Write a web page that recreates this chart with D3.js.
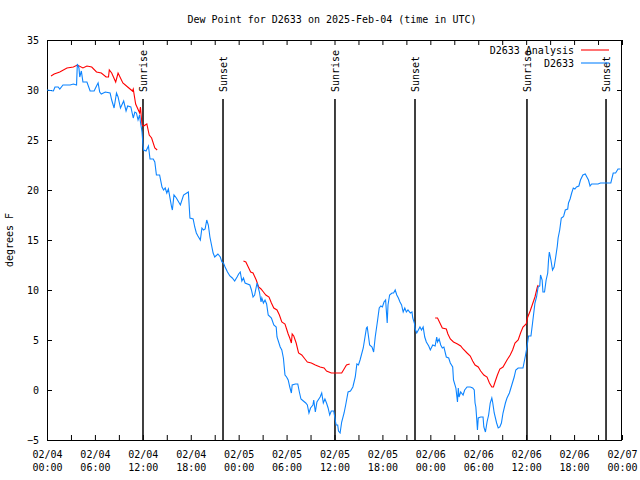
<!DOCTYPE html>
<html>
<head>
<meta charset="utf-8">
<script src="https://cdn.jsdelivr.net/npm/d3@7"></script>
<style>
  html, body { margin: 0; padding: 0; background: #fff; }
  svg text { font-family: "DejaVu Sans Mono", "Liberation Mono", monospace; font-size: 10px; fill: #000; }
</style>
</head>
<body>
<svg id="chart" width="640" height="480"></svg>
<script>
// ---- data (hours since 2025-02-04 00:00 UTC) ----
const title = "Dew Point for D2633 on 2025-Feb-04 (time in UTC)";
const yLabel = "degrees F";
const seriesNames = ["D2633 Analysis", "D2633"];
const yTicks = [-5, 0, 5, 10, 15, 20, 25, 30, 35];

const obsHours = [0.0,0.8,1.0,1.4,1.6,2.0,2.9,3.3,3.7,3.8,4.0,4.1,4.3,4.5,5.0,5.4,5.9,6.2,6.4,6.6,6.8,7.3,7.9,8.1,8.4,8.7,8.9,9.2,9.6,9.9,10.1,10.5,10.8,11.0,11.2,11.4,11.6,11.7,11.9,12.0,12.1,12.4,12.7,12.9,13.3,13.5,13.7,14.1,14.4,14.6,14.8,15.0,15.2,15.6,15.7,15.9,16.2,16.7,17.1,17.5,17.7,17.9,18.3,18.5,18.7,18.9,19.2,19.4,19.6,19.8,20.0,20.2,20.4,20.6,20.8,21.0,21.4,21.7,21.9,22.1,22.3,22.6,22.9,23.2,23.5,23.8,24.0,24.2,24.4,24.6,24.8,25.4,25.6,25.8,26.0,26.3,26.6,26.8,26.9,27.1,27.3,27.5,27.7,28.1,28.4,28.7,28.8,29.2,29.4,29.6,29.8,30.0,30.2,30.4,30.6,30.7,31.1,31.4,31.6,31.8,32.1,32.4,32.6,32.8,33.0,33.3,33.4,33.6,33.8,34.2,34.4,34.6,34.8,35.0,35.2,35.4,35.6,35.9,36.2,36.4,36.5,36.7,36.9,37.2,37.4,37.7,38.0,38.3,38.6,38.8,39.0,39.2,39.6,40.0,40.1,40.4,40.7,40.9,41.1,41.4,41.6,41.8,42.0,42.2,42.4,42.6,42.7,42.9,43.2,43.4,43.6,43.8,44.0,44.2,44.4,44.6,44.8,45.0,45.2,45.5,45.7,45.8,46.0,46.1,46.3,46.5,46.7,46.9,47.1,47.3,47.5,47.8,48.0,48.3,48.6,48.8,48.9,49.1,49.3,49.5,49.7,50.0,50.3,50.5,50.8,50.9,51.2,51.4,51.5,51.6,51.8,52.1,52.3,52.6,53.0,53.3,53.5,53.6,53.7,53.8,53.9,54.0,54.3,54.6,54.7,54.9,55.1,55.3,55.5,55.7,55.8,56.0,56.3,56.5,56.7,56.9,57.1,57.4,57.6,57.9,58.2,58.5,58.7,59.0,59.6,59.9,60.1,60.3,60.6,60.8,61.1,61.3,61.5,61.7,61.8,62.0,62.1,62.3,62.5,62.7,62.8,62.9,63.1,63.3,63.5,63.7,63.9,64.0,64.2,64.4,64.6,64.7,64.9,65.2,65.3,65.5,65.7,65.9,66.1,66.3,66.6,66.8,67.1,67.4,67.6,67.8,68.0,68.2,69.0,69.3,70.6,70.9,71.2,71.5,71.8];
const obsValues = [30.0,29.9,30.3,30.3,30.1,30.5,30.5,30.6,30.5,32.6,32.2,31.3,31.9,30.8,30.8,29.9,29.9,30.4,30.7,29.8,29.6,29.8,29.7,29.0,28.2,29.7,29.3,28.2,28.9,27.9,28.4,28.3,27.2,27.8,27.7,27.0,27.5,26.8,25.8,24.7,24.0,23.9,24.4,23.1,23.1,22.8,21.5,21.5,20.3,20.0,20.2,19.7,20.1,18.3,18.0,19.5,19.2,18.5,19.5,19.7,19.8,17.2,17.1,16.3,15.7,15.4,15.0,16.2,16.0,16.1,17.0,16.5,15.3,14.5,13.7,13.3,13.6,13.3,12.8,12.7,12.3,11.8,11.4,11.2,10.9,11.3,11.6,11.8,10.9,11.2,10.7,10.5,10.0,9.3,9.5,10.7,9.8,8.8,9.2,8.7,9.0,8.6,7.5,7.2,6.5,6.3,5.3,4.3,4.0,3.2,1.5,1.3,1.0,0.3,-0.3,0.5,0.6,0.6,-0.2,-0.9,-1.1,-1.3,-1.5,-2.3,-1.8,-1.5,-1.0,-2.2,-1.2,-0.7,-0.3,-1.3,-0.9,-1.3,-1.8,-2.5,-2.1,-2.1,-3.5,-3.5,-4.1,-4.3,-3.2,-2.3,-1.5,-0.2,-0.1,0.3,1.3,2.6,2.5,3.0,4.2,6.2,6.3,4.5,4.3,3.8,5.3,7.0,8.2,8.4,8.3,8.8,9.0,6.7,8.5,9.5,9.7,9.7,10.0,9.5,9.2,8.8,8.5,7.8,8.2,7.8,8.0,7.7,7.8,7.2,6.7,6.1,5.7,6.0,6.3,6.0,6.3,5.3,4.8,4.4,4.0,4.5,4.4,5.3,4.8,5.1,4.5,4.2,4.3,3.3,3.2,2.7,2.3,1.0,0.2,-1.2,0.2,-0.7,-0.2,-0.5,0.0,0.3,0.3,0.2,0.0,-1.3,-1.7,-2.8,-4.0,-2.8,-2.7,-2.7,-3.7,-4.2,-3.2,-2.5,-1.3,-0.8,-1.2,-2.3,-3.3,-3.8,-3.7,-3.3,-2.3,-1.3,-0.8,-0.3,0.5,1.3,2.0,2.2,2.2,3.4,4.3,5.4,5.4,6.7,8.7,9.3,10.3,10.4,11.5,11.0,9.8,9.8,11.0,11.7,13.0,13.8,13.0,12.0,12.3,13.3,14.4,15.2,16.0,17.2,17.3,17.4,18.0,18.1,18.7,19.1,19.7,20.2,20.1,20.3,20.4,21.0,21.5,21.6,21.3,21.0,20.4,20.6,20.6,20.7,20.7,21.7,21.7,22.1,22.1];

// analysis series; null marks a gap between runs
const anaHours = [0.5,0.9,1.6,2.5,3.3,3.8,4.5,5.0,5.6,6.2,6.8,7.4,7.7,7.8,8.1,8.6,8.9,9.5,10.1,10.7,10.8,11.1,11.6,11.7,11.9,12.1,12.5,12.8,13.1,13.5,13.8,
  19.0,
  24.6,24.9,25.2,25.5,25.8,26.2,26.5,26.8,27.1,27.4,27.8,28.1,28.4,28.8,29.1,29.4,29.8,30.0,30.2,30.4,30.6,30.7,30.9,31.2,31.5,31.9,32.3,32.6,33.1,33.6,34.2,34.7,35.0,35.6,36.1,36.9,37.2,37.5,37.9,
  43.0,
  48.6,48.9,49.2,49.5,50.0,50.2,50.5,50.9,51.4,51.8,52.1,52.6,53.0,53.3,53.6,54.0,54.3,54.7,55.1,55.4,55.7,55.9,56.1,56.4,56.7,57.1,57.6,58.0,58.3,58.6,59.0,59.3,59.6,60.0,60.2,60.5,60.8,61.1,61.4,61.5];
const anaValues = [31.4,31.6,31.8,32.2,32.3,32.5,32.2,32.4,32.3,31.8,31.7,31.3,31.3,32.0,31.7,30.8,31.7,30.7,30.3,29.9,30.1,28.6,27.7,28.3,26.5,26.4,26.6,25.5,25.2,24.2,24.0,
  null,
  12.9,12.8,12.3,11.8,11.7,11.0,10.3,10.1,9.8,9.5,9.3,8.7,8.2,8.0,7.5,6.8,6.6,6.1,5.6,5.2,4.7,5.6,5.4,4.7,3.7,3.5,3.1,2.8,2.7,2.5,2.3,2.2,1.9,1.7,1.7,1.7,2.1,2.5,2.6,
  null,
  7.2,7.2,6.7,6.2,6.1,5.6,5.1,4.8,4.6,4.4,4.1,3.7,3.4,2.9,2.5,2.3,1.9,1.5,1.3,0.7,0.3,0.3,0.8,1.5,2.1,2.3,3.0,3.5,4.0,4.7,5.0,5.7,6.3,6.6,7.3,7.9,8.6,9.3,10.3,10.5];

const sunHours = [12.02, 22.04, 36.06, 46.08, 60.1, 70.0];
const sunLabels = ["Sunrise", "Sunset", "Sunrise", "Sunset", "Sunrise", "Sunset"];

const colors = { analysis: "#ff0000", obs: "#0c84ff" };

// ---- drawing ----
const t0 = Date.UTC(2025, 1, 4, 0, 0);
const toDate = h => new Date(t0 + h * 3600e3);

const L = 47, R = 622, T = 40, B = 440;
const svg = d3.select("#chart");

const x = d3.scaleUtc().domain([toDate(0), toDate(72)]).range([L, R]);
const y = d3.scaleLinear().domain([-5, 35]).range([B, T]);

// title
svg.append("text").attr("x", 332).attr("y", 23).attr("text-anchor", "middle").text(title);

// axes
const xTickVals = d3.utcHour.every(3).range(toDate(0), toDate(72.01));
const fmtD = d3.utcFormat("%m/%d"), fmtT = d3.utcFormat("%H:%M");

const gx = svg.append("g").attr("transform", `translate(0,${B})`)
  .call(d3.axisBottom(x).tickValues(xTickVals).tickSize(-5).tickFormat(""));
gx.selectAll(".tick").each(function(d) {
  if (d.getUTCHours() % 6 !== 0) return;
  const t = d3.select(this).append("text").attr("text-anchor", "middle").attr("fill", "#000");
  t.append("tspan").attr("x", 0).attr("y", 18).text(fmtD(d));
  t.append("tspan").attr("x", 0).attr("y", 31).text(fmtT(d));
});
svg.append("g").attr("transform", `translate(0,${T})`)
  .call(d3.axisTop(x).tickValues(xTickVals).tickSize(-5).tickFormat(""));

const gy = svg.append("g").attr("transform", `translate(${L},0)`)
  .call(d3.axisLeft(y).tickValues(yTicks).tickSize(-5).tickPadding(8).tickFormat(d3.format("d")));
svg.append("g").attr("transform", `translate(${R},0)`)
  .call(d3.axisRight(y).tickValues(yTicks).tickSize(-5).tickFormat(""));

svg.selectAll(".domain").remove();
svg.selectAll(".tick line").attr("stroke", "#000");
svg.selectAll(".tick text").style("font-family", "DejaVu Sans Mono").style("font-size", "10px");

svg.append("rect").attr("x", L + 0.5).attr("y", T + 0.5).attr("width", R - L - 1).attr("height", B - T)
  .attr("fill", "none").attr("stroke", "#000").attr("stroke-width", 1);

// y label
svg.append("text").attr("transform", `translate(13,240) rotate(-90)`).attr("text-anchor", "middle").text(yLabel);

// sunrise/sunset
sunHours.forEach((h, i) => {
  const sx = x(toDate(h));
  svg.append("line").attr("x1", sx).attr("x2", sx).attr("y1", 99).attr("y2", B)
    .attr("stroke", "#000").attr("stroke-width", 1.5);
  svg.append("text").attr("transform", `translate(${sx + 4},92) rotate(-90)`)
    .attr("text-anchor", "start").text(sunLabels[i]);
});

// lines
const obsData = obsHours.map((h, i) => ({ t: toDate(h), v: obsValues[i] }));
const anaData = anaHours.map((h, i) => ({ t: toDate(h), v: anaValues[i] }));
const line = d3.line().defined(d => d.v !== null).x(d => x(d.t)).y(d => y(d.v));

svg.append("path").datum(anaData).attr("d", line).attr("fill", "none")
  .attr("stroke", colors.analysis).attr("stroke-width", 1.1);
svg.append("path").datum(obsData).attr("d", line).attr("fill", "none")
  .attr("stroke", colors.obs).attr("stroke-width", 1.1);

// legend
const legend = [{ name: seriesNames[0], c: colors.analysis, yy: 50 }, { name: seriesNames[1], c: colors.obs, yy: 63 }];
legend.forEach(d => {
  svg.append("text").attr("x", 574).attr("y", d.yy + 4).attr("text-anchor", "end").text(d.name);
  svg.append("line").attr("x1", 581).attr("x2", 609).attr("y1", d.yy).attr("y2", d.yy)
    .attr("stroke", d.c).attr("stroke-width", 1.1);
});
</script>
</body>
</html>
